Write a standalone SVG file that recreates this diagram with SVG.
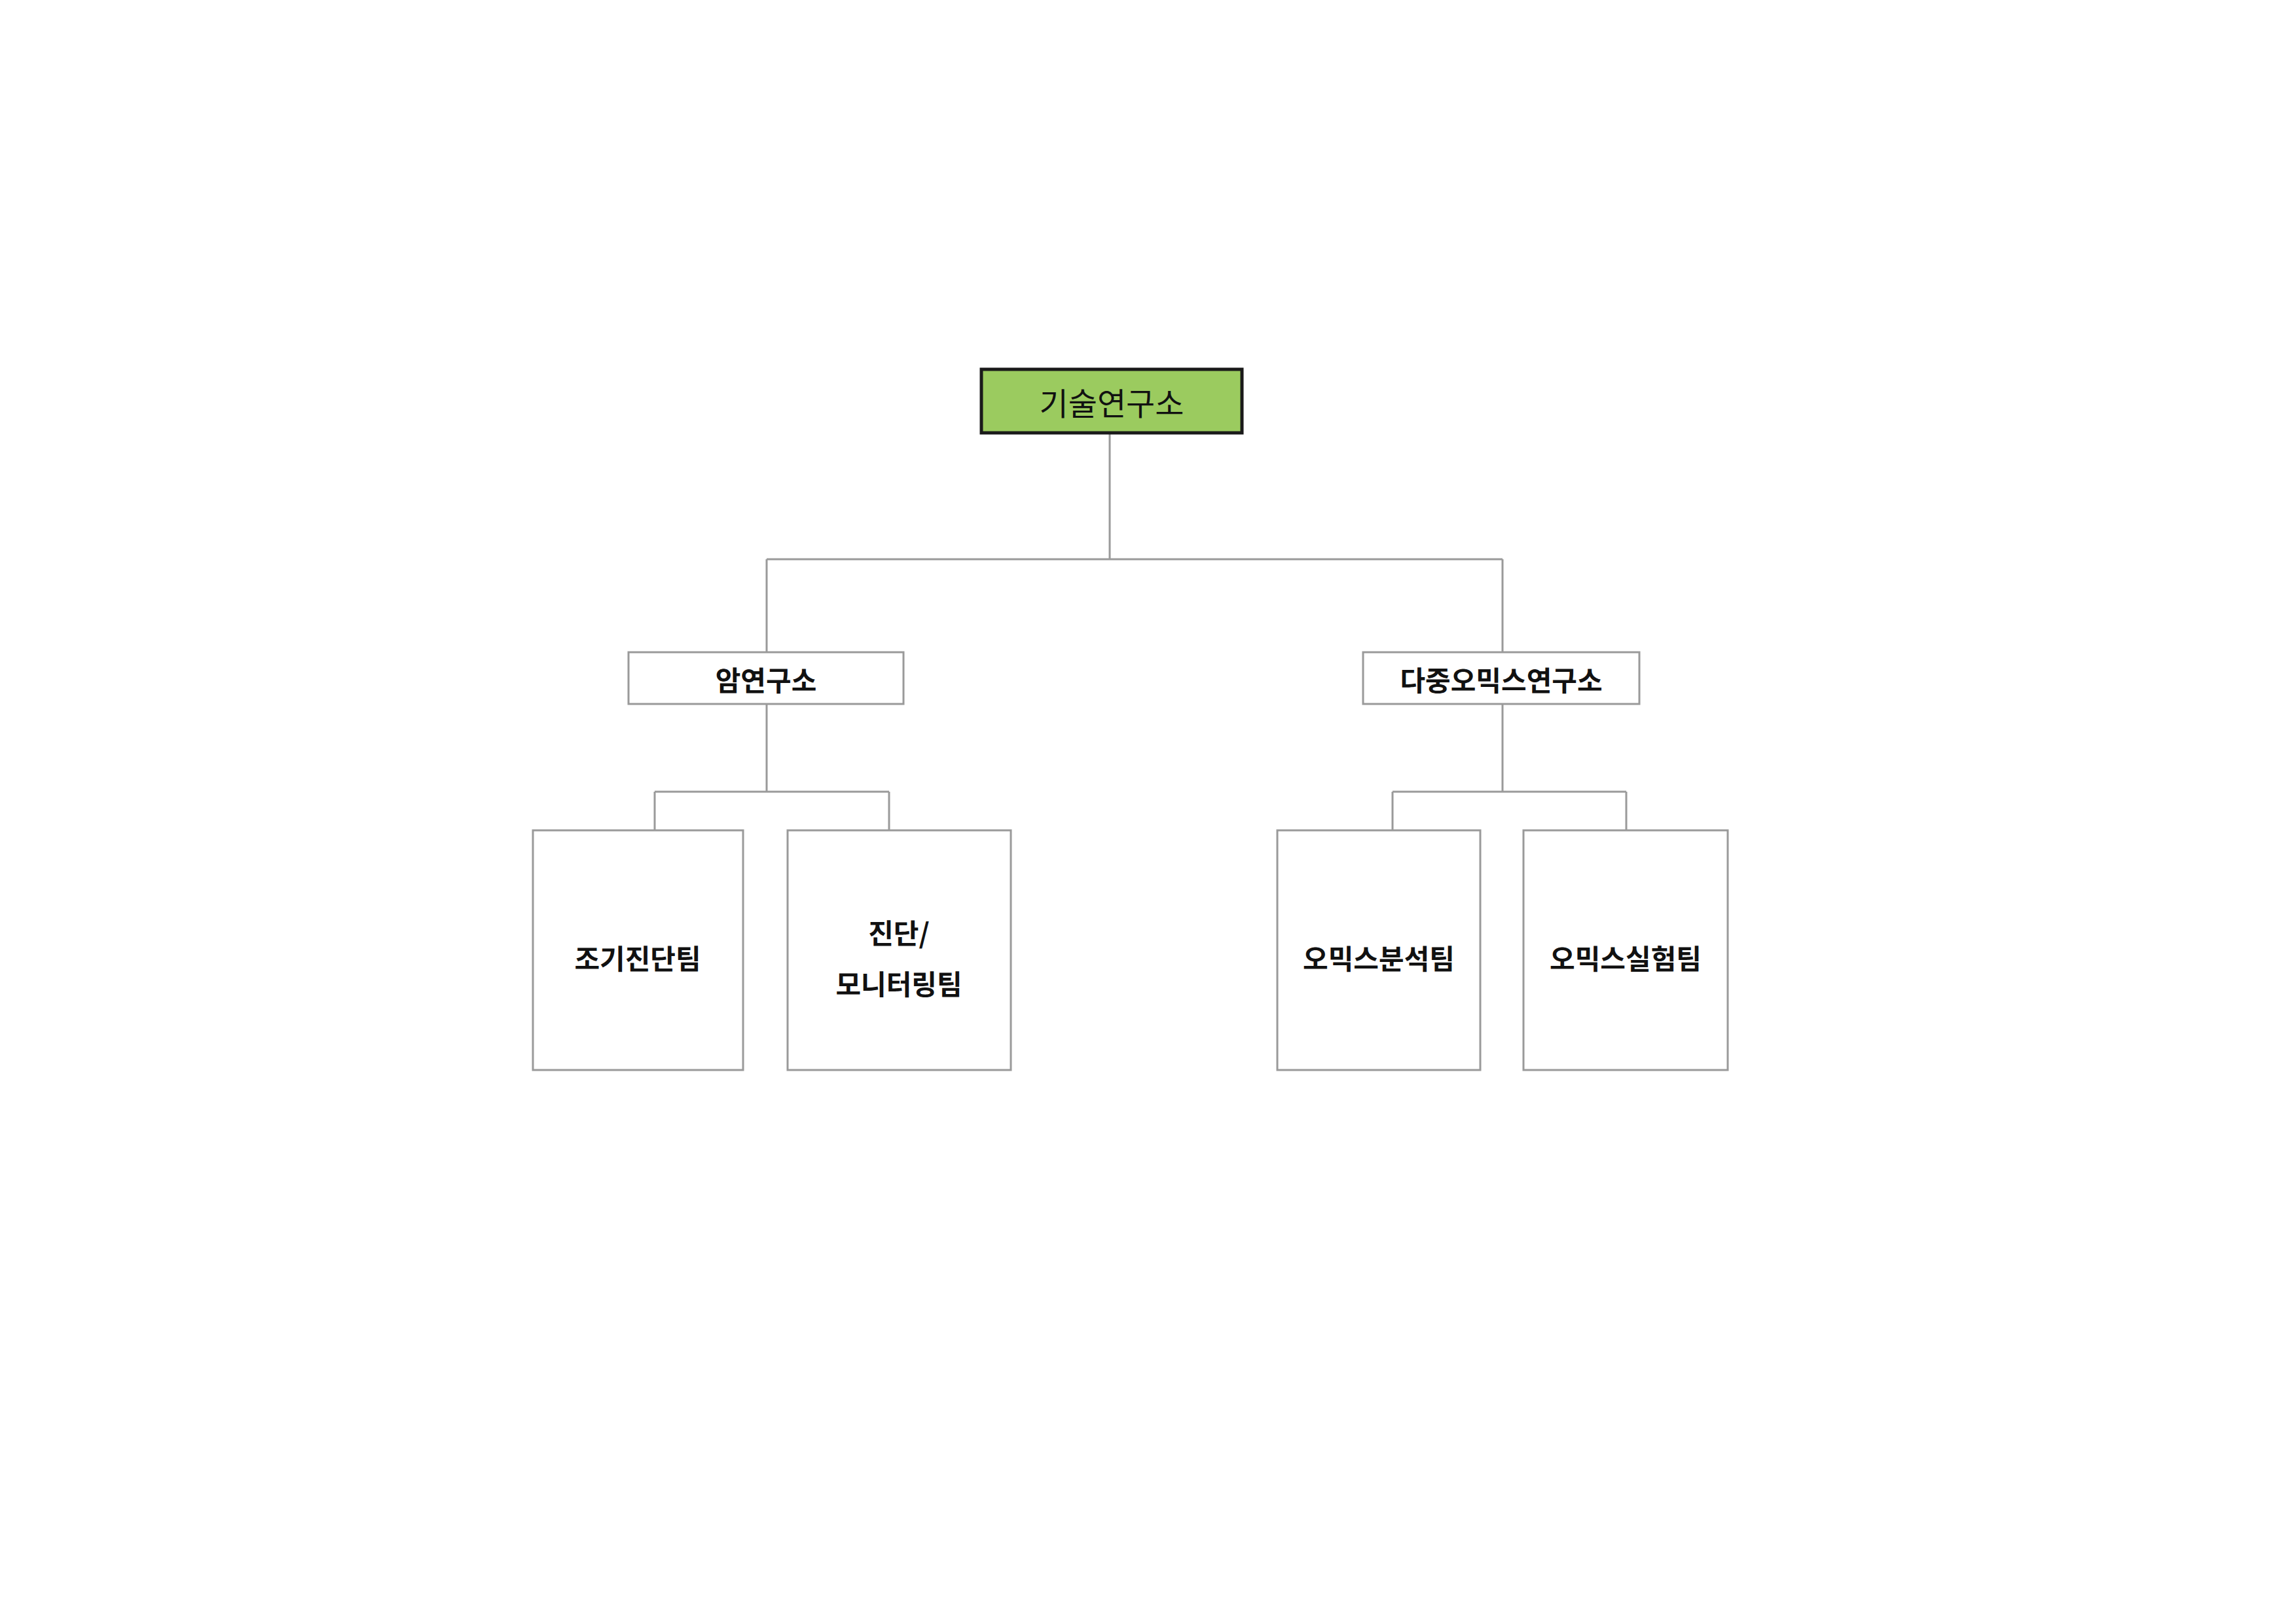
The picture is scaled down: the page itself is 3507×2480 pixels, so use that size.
<svg xmlns="http://www.w3.org/2000/svg" width="3507" height="2480" viewBox="0 0 3507 2480">
<style>
.box{fill:#fff;stroke:#9a9a9a;stroke-width:3}
.t{font-family:"Noto Sans CJK KR",sans-serif;font-weight:bold;font-size:42px;fill:#111;text-anchor:middle;dominant-baseline:central}
.c{fill:none;stroke:#9a9a9a;stroke-width:3}
</style>
<rect width="3507" height="2480" fill="#fff"/>
<g id="connectors">
<path class="c" d="M1695 661V854M1171 854H2295M1171 854V996M2295 854V996"/>
<path class="c" d="M1171 1075V1209M1000 1209H1358M1000 1209V1268M1358 1209V1268"/>
<path class="c" d="M2295 1075V1209M2127 1209H2484M2127 1209V1268M2484 1209V1268"/>
</g>
<g id="n0"><rect x="1499" y="564" width="398" height="97" fill="#9bcb5f" stroke="#1a1a1a" stroke-width="5"/><text class="t" x="1698" y="613" style="font-weight:normal;font-size:48px">기술연구소</text></g>
<g id="n1"><rect class="box" x="960" y="996" width="420" height="79"/><text class="t" x="1170" y="1036">암연구소</text></g>
<g id="n2"><rect class="box" x="2082" y="996" width="422" height="79"/><text class="t" x="2293" y="1036">다중오믹스연구소</text></g>
<g id="n3"><rect class="box" x="814" y="1268" width="321" height="366"/><text class="t" x="974" y="1461">조기진단팀</text></g>
<g id="n4"><rect class="box" x="1203" y="1268" width="341" height="366"/><text class="t" x="1373" y="1422">진단/</text><text class="t" x="1373" y="1500">모니터링팀</text></g>
<g id="n5"><rect class="box" x="1951" y="1268" width="310" height="366"/><text class="t" x="2106" y="1461">오믹스분석팀</text></g>
<g id="n6"><rect class="box" x="2327" y="1268" width="312" height="366"/><text class="t" x="2483" y="1461">오믹스실험팀</text></g>
</svg>
